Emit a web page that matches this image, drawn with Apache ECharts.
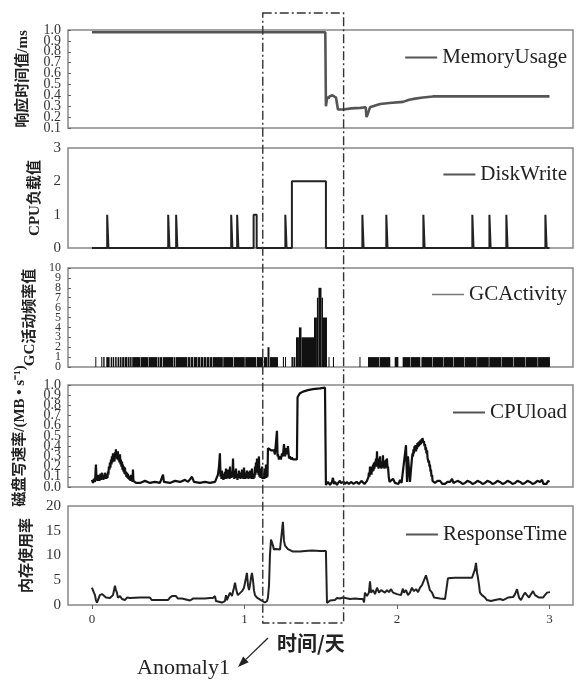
<!DOCTYPE html>
<html><head><meta charset="utf-8">
<script src="https://cdn.jsdelivr.net/npm/echarts@6/dist/echarts.min.js"></script>
<style>html,body{margin:0;padding:0;background:#fff}#c{width:582px;height:680px}</style>
</head><body><div id="c"></div>
<script>
// ---------- data (x in days) ----------
const xTickValues = [0, 1, 2, 3];
const seriesNames = ['MemoryUsage', 'DiskWrite', 'GCActivity', 'CPUload', 'ResponseTime'];
const yAxisNames = ['响应时间值/ms', 'CPU负载值', 'GC活动频率值', '磁盘写速率/(MB • s⁻¹)', '内存使用率'];

// y tick labels per panel, split in two interleaved groups (the reference labels overlap)
const yTicksA = [[0.1,0.3,0.5,0.7,0.9], [0,1,2,3], [0,2,4,6,8,10], [0.0,0.2,0.4,0.6,0.8,1.0], [0,5,10,15,20]];
const yTicksB = [[0.2,0.4,0.6,0.8,1.0], [], [1,3,5,7,9], [0.1,0.3,0.5,0.7,0.9], []];

const memoryUsage = [[0,0.98],[1.530,0.98],[1.534,0.30],[1.538,0.34],[1.545,0.39],[1.551,0.37],[1.557,0.39],[1.567,0.38],[1.577,0.40],[1.587,0.39],[1.600,0.38],[1.610,0.37],[1.613,0.27],[1.650,0.27],[1.700,0.28],[1.760,0.285],[1.795,0.29],[1.800,0.20],[1.806,0.22],[1.823,0.29],[1.843,0.30],[1.889,0.32],[1.950,0.33],[2.040,0.34],[2.080,0.36],[2.120,0.37],[2.170,0.38],[2.236,0.39],[2.500,0.39],[3.000,0.39]];

// DiskWrite pulses: [start, end, value]
const diskWritePulses = [[0.100,0.108,1],[0.500,0.508,1],[0.552,0.560,1],[0.913,0.921,1],[0.952,0.960,1],[1.060,1.080,1],[1.268,1.276,1],[1.311,1.534,2],[1.773,1.781,1],[1.930,1.938,1],[2.173,2.181,1],[2.494,2.502,1],[2.606,2.614,1],[2.717,2.725,1],[2.973,2.981,1]];
const diskWriteRange = [0, 3.0];

// GCActivity bars: [start, end, height]
const gcBars = [[0.022,0.028,1],[0.061,0.068,1],[0.074,0.083,1],[0.094,0.116,1],[0.123,0.132,1],[0.136,0.146,1],[0.152,0.162,1],[0.168,0.178,1],[0.182,0.194,1],[0.198,0.211,1],[0.214,0.231,1],[0.234,0.247,1],[0.250,0.260,1],[0.264,0.318,1],[0.321,0.370,1],[0.373,0.428,1],[0.431,0.440,1],[0.443,0.461,1],[0.465,0.533,1],[0.536,0.546,1],[0.549,0.626,1],[0.630,0.645,1],[0.648,0.664,1],[0.668,0.691,1],[0.694,0.710,1],[0.713,0.730,1],[0.733,0.750,1],[0.753,0.769,1],[0.772,0.789,1],[0.792,0.858,1],[0.861,0.927,1],[0.931,1.002,1],[1.005,1.078,1],[1.082,1.123,1],[1.128,1.149,1],[1.151,1.164,2],[1.167,1.220,1],[1.252,1.259,1],[1.266,1.272,1],[1.308,1.318,1],[1.321,1.334,1],[1.338,1.357,3],[1.357,1.374,4],[1.374,1.456,3],[1.456,1.475,5],[1.475,1.485,7],[1.485,1.505,8],[1.505,1.515,7],[1.515,1.541,5],[1.551,1.557,1],[1.580,1.587,1],[1.754,1.760,1],[1.810,1.884,1],[1.887,1.956,1],[1.985,2.009,1],[2.037,2.087,1],[2.090,2.153,1],[2.160,2.232,1],[2.235,2.302,1],[2.305,2.369,1],[2.372,2.442,1],[2.445,2.522,1],[2.525,2.602,1],[2.605,2.682,1],[2.685,2.762,1],[2.765,2.842,1],[2.845,2.922,1],[2.925,3.003,1]];

const cpuLoad = [[0,0.07],[0.007,0.04],[0.013,0.08],[0.020,0.05],[0.026,0.22],[0.030,0.08],[0.033,0.12],[0.036,0.06],[0.039,0.12],[0.043,0.07],[0.046,0.10],[0.049,0.06],[0.052,0.09],[0.056,0.13],[0.059,0.07],[0.062,0.12],[0.066,0.14],[0.069,0.08],[0.072,0.11],[0.075,0.07],[0.079,0.12],[0.082,0.08],[0.085,0.14],[0.089,0.09],[0.092,0.13],[0.095,0.08],[0.098,0.12],[0.102,0.09],[0.105,0.15],[0.108,0.12],[0.111,0.20],[0.115,0.17],[0.118,0.24],[0.121,0.19],[0.125,0.27],[0.128,0.22],[0.131,0.30],[0.134,0.24],[0.138,0.33],[0.141,0.26],[0.144,0.30],[0.148,0.25],[0.151,0.34],[0.154,0.28],[0.157,0.37],[0.161,0.29],[0.164,0.34],[0.167,0.27],[0.170,0.35],[0.174,0.26],[0.177,0.30],[0.180,0.24],[0.184,0.32],[0.187,0.22],[0.190,0.27],[0.193,0.20],[0.197,0.25],[0.200,0.17],[0.203,0.22],[0.207,0.15],[0.210,0.20],[0.213,0.13],[0.216,0.19],[0.220,0.12],[0.223,0.15],[0.226,0.10],[0.230,0.14],[0.233,0.09],[0.236,0.13],[0.239,0.08],[0.243,0.11],[0.246,0.07],[0.249,0.10],[0.252,0.06],[0.256,0.12],[0.259,0.06],[0.262,0.08],[0.266,0.05],[0.269,0.17],[0.272,0.06],[0.276,0.05],[0.282,0.07],[0.289,0.04],[0.295,0.05],[0.315,0.04],[0.348,0.06],[0.380,0.04],[0.413,0.05],[0.446,0.04],[0.466,0.12],[0.472,0.05],[0.511,0.04],[0.544,0.06],[0.577,0.05],[0.610,0.07],[0.630,0.05],[0.656,0.10],[0.669,0.05],[0.708,0.04],[0.741,0.05],[0.774,0.04],[0.807,0.05],[0.820,0.06],[0.826,0.12],[0.833,0.20],[0.839,0.33],[0.843,0.10],[0.846,0.14],[0.849,0.08],[0.852,0.16],[0.856,0.09],[0.859,0.13],[0.862,0.07],[0.866,0.12],[0.869,0.08],[0.872,0.15],[0.876,0.10],[0.879,0.18],[0.882,0.08],[0.885,0.14],[0.889,0.10],[0.892,0.17],[0.895,0.09],[0.898,0.13],[0.902,0.08],[0.905,0.20],[0.908,0.10],[0.911,0.15],[0.915,0.09],[0.918,0.14],[0.921,0.11],[0.925,0.28],[0.928,0.10],[0.931,0.12],[0.934,0.08],[0.938,0.16],[0.941,0.10],[0.944,0.18],[0.948,0.09],[0.951,0.13],[0.954,0.07],[0.957,0.12],[0.961,0.09],[0.964,0.16],[0.967,0.10],[0.970,0.14],[0.974,0.08],[0.977,0.12],[0.980,0.09],[0.984,0.17],[0.987,0.10],[0.990,0.14],[0.993,0.08],[0.997,0.19],[1.000,0.11],[1.003,0.14],[1.007,0.08],[1.010,0.12],[1.013,0.09],[1.016,0.16],[1.020,0.10],[1.023,0.15],[1.026,0.08],[1.030,0.13],[1.033,0.10],[1.036,0.16],[1.039,0.09],[1.043,0.12],[1.046,0.08],[1.049,0.18],[1.052,0.10],[1.056,0.13],[1.059,0.08],[1.062,0.12],[1.066,0.09],[1.069,0.20],[1.072,0.12],[1.075,0.24],[1.079,0.15],[1.082,0.28],[1.085,0.14],[1.089,0.22],[1.092,0.12],[1.095,0.30],[1.098,0.10],[1.102,0.15],[1.105,0.09],[1.108,0.18],[1.111,0.10],[1.115,0.20],[1.118,0.08],[1.121,0.14],[1.125,0.09],[1.128,0.12],[1.131,0.08],[1.134,0.18],[1.138,0.10],[1.141,0.22],[1.144,0.09],[1.148,0.14],[1.151,0.10],[1.154,0.38],[1.167,0.39],[1.174,0.36],[1.180,0.37],[1.187,0.35],[1.193,0.36],[1.200,0.32],[1.207,0.33],[1.213,0.55],[1.217,0.30],[1.220,0.32],[1.226,0.27],[1.233,0.30],[1.239,0.27],[1.246,0.33],[1.252,0.30],[1.259,0.42],[1.266,0.30],[1.272,0.38],[1.279,0.32],[1.285,0.40],[1.292,0.28],[1.298,0.30],[1.305,0.27],[1.311,0.29],[1.318,0.27],[1.331,0.27],[1.344,0.27],[1.348,0.88],[1.364,0.92],[1.384,0.935],[1.416,0.95],[1.449,0.96],[1.495,0.967],[1.528,0.974],[1.534,0.02],[1.541,0.02],[1.547,0.05],[1.554,0.06],[1.561,0.02],[1.567,0.03],[1.574,0.05],[1.580,0.09],[1.587,0.03],[1.593,0.05],[1.600,0.05],[1.607,0.02],[1.613,0.04],[1.620,0.03],[1.626,0.06],[1.633,0.04],[1.639,0.03],[1.646,0.05],[1.652,0.05],[1.659,0.03],[1.666,0.04],[1.672,0.05],[1.679,0.06],[1.685,0.03],[1.692,0.03],[1.698,0.05],[1.705,0.05],[1.715,0.03],[1.725,0.04],[1.735,0.05],[1.744,0.06],[1.750,0.03],[1.757,0.04],[1.767,0.06],[1.777,0.05],[1.787,0.03],[1.797,0.04],[1.803,0.06],[1.810,0.06],[1.813,0.10],[1.816,0.14],[1.820,0.10],[1.823,0.20],[1.826,0.13],[1.830,0.18],[1.833,0.12],[1.836,0.20],[1.839,0.15],[1.843,0.22],[1.846,0.16],[1.849,0.24],[1.852,0.18],[1.856,0.25],[1.859,0.20],[1.862,0.28],[1.866,0.22],[1.869,0.35],[1.872,0.20],[1.875,0.26],[1.879,0.18],[1.882,0.28],[1.885,0.21],[1.889,0.30],[1.892,0.19],[1.895,0.25],[1.898,0.18],[1.902,0.24],[1.905,0.20],[1.908,0.31],[1.911,0.19],[1.915,0.26],[1.918,0.18],[1.921,0.24],[1.925,0.19],[1.928,0.27],[1.931,0.20],[1.934,0.28],[1.938,0.18],[1.941,0.20],[1.946,0.10],[1.951,0.05],[1.961,0.04],[1.974,0.08],[1.987,0.04],[2.000,0.05],[2.010,0.03],[2.020,0.07],[2.030,0.04],[2.039,0.04],[2.059,0.41],[2.066,0.05],[2.072,0.30],[2.085,0.05],[2.098,0.28],[2.102,0.33],[2.105,0.30],[2.108,0.37],[2.111,0.33],[2.115,0.40],[2.118,0.36],[2.121,0.41],[2.125,0.35],[2.128,0.40],[2.131,0.37],[2.134,0.43],[2.138,0.39],[2.141,0.44],[2.144,0.40],[2.148,0.45],[2.151,0.41],[2.154,0.46],[2.157,0.42],[2.161,0.47],[2.164,0.44],[2.167,0.48],[2.170,0.49],[2.174,0.43],[2.177,0.45],[2.180,0.40],[2.184,0.42],[2.187,0.36],[2.190,0.39],[2.193,0.33],[2.197,0.36],[2.200,0.29],[2.203,0.30],[2.207,0.24],[2.210,0.26],[2.213,0.20],[2.216,0.22],[2.220,0.15],[2.223,0.17],[2.226,0.10],[2.230,0.12],[2.233,0.06],[2.236,0.05],[2.249,0.04],[2.266,0.06],[2.282,0.06],[2.298,0.03],[2.315,0.03],[2.331,0.05],[2.348,0.05],[2.361,0.08],[2.370,0.04],[2.380,0.04],[2.397,0.06],[2.413,0.05],[2.430,0.03],[2.446,0.04],[2.462,0.06],[2.479,0.05],[2.495,0.03],[2.511,0.04],[2.528,0.06],[2.544,0.05],[2.561,0.03],[2.577,0.04],[2.593,0.06],[2.610,0.05],[2.626,0.03],[2.643,0.04],[2.659,0.06],[2.675,0.05],[2.692,0.03],[2.708,0.04],[2.725,0.06],[2.741,0.05],[2.757,0.03],[2.774,0.04],[2.790,0.06],[2.807,0.05],[2.823,0.03],[2.839,0.04],[2.856,0.06],[2.872,0.05],[2.889,0.03],[2.905,0.04],[2.921,0.06],[2.938,0.05],[2.951,0.07],[2.960,0.03],[2.970,0.04],[2.980,0.03],[2.990,0.06],[3.0,0.05]];

const responseTime = [[0,3.5],[0.013,2.5],[0.020,2.0],[0.026,1.0],[0.033,0.5],[0.046,0.8],[0.052,2.0],[0.066,2.2],[0.079,1.8],[0.092,1.5],[0.105,1.6],[0.118,1.4],[0.138,2.0],[0.151,3.9],[0.157,3.0],[0.164,2.5],[0.170,1.5],[0.184,1.8],[0.197,1.2],[0.203,0.8],[0.216,1.0],[0.230,1.5],[0.249,1.4],[0.315,1.5],[0.380,1.5],[0.393,1.0],[0.446,1.0],[0.498,1.0],[0.511,1.5],[0.525,1.8],[0.538,1.6],[0.551,1.8],[0.564,1.3],[0.590,1.3],[0.597,0.9],[0.643,0.9],[0.656,1.0],[0.662,1.3],[0.708,1.3],[0.741,1.3],[0.774,1.4],[0.793,1.4],[0.807,1.8],[0.813,0.8],[0.826,0.5],[0.852,0.5],[0.872,0.8],[0.879,2.0],[0.885,1.0],[0.898,1.2],[0.905,2.5],[0.918,1.8],[0.931,3.5],[0.938,4.5],[0.944,3.5],[0.951,2.5],[0.957,2.0],[0.970,2.2],[0.984,2.8],[0.997,3.5],[1.010,5.5],[1.016,6.5],[1.023,4.0],[1.030,3.0],[1.036,4.0],[1.043,5.5],[1.049,6.5],[1.056,5.0],[1.062,3.0],[1.069,2.0],[1.082,1.5],[1.095,1.2],[1.108,1.0],[1.121,0.8],[1.134,0.5],[1.148,0.8],[1.154,1.5],[1.161,4.0],[1.167,10],[1.174,13.2],[1.180,13.6],[1.187,12],[1.193,11.2],[1.207,11.3],[1.220,11.0],[1.233,11.2],[1.246,11.5],[1.252,16.8],[1.259,13],[1.266,12],[1.272,11.8],[1.285,11.3],[1.298,11.2],[1.318,10.8],[1.364,10.8],[1.397,10.9],[1.443,11.0],[1.449,11.3],[1.456,11.0],[1.495,10.9],[1.534,10.9],[1.541,0.4],[1.554,0.5],[1.561,0.9],[1.574,1.2],[1.593,1.0],[1.607,1.4],[1.626,1.3],[1.646,1.5],[1.659,1.2],[1.692,1.2],[1.725,1.3],[1.757,1.2],[1.777,1.2],[1.784,0.5],[1.790,2.5],[1.803,1.8],[1.816,2.5],[1.823,4.8],[1.830,2.5],[1.843,3.0],[1.856,2.2],[1.869,3.5],[1.882,2.5],[1.895,3.0],[1.908,2.8],[1.921,2.5],[1.934,3.0],[1.948,2.6],[1.961,3.2],[1.974,2.5],[1.987,2.8],[2.000,2.2],[2.013,2.6],[2.026,2.0],[2.039,3.3],[2.046,2.5],[2.059,3.0],[2.072,2.0],[2.085,2.5],[2.098,3.5],[2.111,2.8],[2.125,3.2],[2.138,2.6],[2.151,3.5],[2.164,4.0],[2.177,5.0],[2.190,6.0],[2.197,6.0],[2.203,4.5],[2.216,3.0],[2.230,2.5],[2.243,1.5],[2.256,1.2],[2.282,1.3],[2.315,1.2],[2.328,1.2],[2.334,5.4],[2.380,5.5],[2.446,5.5],[2.492,5.5],[2.505,5.8],[2.511,7.2],[2.518,8.5],[2.525,6.5],[2.531,5.5],[2.538,4.0],[2.544,2.5],[2.557,2.0],[2.570,1.8],[2.577,1.5],[2.590,1.0],[2.603,1.2],[2.616,0.8],[2.643,1.0],[2.675,1.2],[2.695,1.0],[2.708,1.3],[2.728,1.5],[2.741,1.2],[2.761,1.6],[2.774,2.2],[2.787,3.2],[2.800,1.5],[2.813,1.0],[2.826,1.8],[2.839,2.5],[2.852,2.0],[2.866,1.5],[2.879,2.2],[2.892,2.8],[2.905,2.0],[2.918,1.8],[2.931,1.5],[2.944,1.8],[2.957,1.5],[2.970,2.0],[2.984,2.5],[2.997,2.8],[3.003,2.6]];

const yRanges = [[0.1, 1.0, 0.1], [0, 3, 1], [0, 10, 1], [0, 1.0, 0.1], [0, 20, 5]];
const anomalyWindow = [1.12, 1.65];
const xRange = [-0.157, 3.154];

// ---------- helpers ----------
function pulseLine(list, x0, x1) {
  const pts = [[x0, 0]];
  list.forEach(([s, e, h]) => { pts.push([s, 0], [s, h], [e, h], [e, 0]); });
  pts.push([x1, 0]);
  return pts;
}

const SERIF = "'Liberation Serif','Times New Roman',serif";
const NAMEFONT = "'Liberation Serif','Noto Sans CJK SC',sans-serif";
const layout = [
  {top: 30, height: 98, gap: 37, lab: 14, tick: true, legTop: 42},
  {top: 148, height: 100, gap: 23, lab: 15, tick: false, legTop: 159},
  {top: 268, height: 99, gap: 28, lab: 12, tick: true, legTop: 279},
  {top: 385, height: 102, gap: 40, lab: 14, tick: true, legTop: 397},
  {top: 506, height: 99, gap: 27, lab: 15, tick: false, legTop: 519}
];

const chart = echarts.init(document.getElementById('c'), null, {renderer: 'canvas'});

const grids = layout.map(l => ({left: 68, right: 9, top: l.top, height: l.height, show: true,
  borderColor: '#888', borderWidth: 1.5, backgroundColor: 'transparent', containLabel: false}));

const xAxes = layout.map((l, i) => {
  const last = i === layout.length - 1;
  return {
    type: 'value', gridIndex: i, min: xRange[0], max: xRange[1],
    axisLine: {show: false, onZero: false}, splitLine: {show: false},
    axisTick: {show: last, customValues: xTickValues, length: 4, lineStyle: {color: '#666'}},
    axisLabel: {show: last, customValues: xTickValues, fontFamily: SERIF, fontSize: 13, color: '#333', margin: 8,
      formatter: v => String(v)}
  };
});

function labelStyle(l, dec, values) {
  return {fontFamily: SERIF, fontSize: l.lab, color: '#333', margin: 7,
    customValues: values, showMinLabel: true, showMaxLabel: true,
    formatter: v => Number(v).toFixed(dec)};
}

const yAxes = layout.map((l, i) => {
  const [mn, mx, iv] = yRanges[i];
  const dec = iv < 1 ? 1 : 0;
  return {
    type: 'value', gridIndex: i, min: mn, max: mx, interval: iv, position: 'left',
    name: yAxisNames[i], nameLocation: 'middle', nameRotate: 90, nameGap: l.gap,
    nameTextStyle: {fontFamily: NAMEFONT, fontSize: 15, fontWeight: 'bold', color: '#222'},
    axisLine: {show: false, onZero: false}, splitLine: {show: false},
    axisTick: {show: l.tick, inside: true, length: 3, lineStyle: {color: '#666'}},
    axisLabel: labelStyle(l, dec, yTicksA[i])
  };
});
// companion axes carrying the interleaved labels
layout.forEach((l, i) => {
  if (!yTicksB[i].length) return;
  const [mn, mx, iv] = yRanges[i];
  const dec = iv < 1 ? 1 : 0;
  yAxes.push({
    type: 'value', gridIndex: i, min: mn, max: mx, position: 'left', offset: 0,
    axisLine: {show: false, onZero: false}, splitLine: {show: false}, axisTick: {show: false},
    axisLabel: labelStyle(l, dec, yTicksB[i])
  });
});

const legends = layout.map((l, i) => ({
  data: [{name: seriesNames[i], itemStyle: {color: i === 2 ? '#777' : '#555'}}],
  right: 10, top: l.legTop, icon: 'rect', itemWidth: 32, itemHeight: i === 2 ? 1.5 : 2.2,
  selectedMode: false,
  textStyle: {fontFamily: SERIF, fontSize: 21, color: '#222'}
}));

const series = [
  {name: seriesNames[0], type: 'line', xAxisIndex: 0, yAxisIndex: 0, data: memoryUsage,
   showSymbol: false, symbol: 'none', lineStyle: {width: 2.6, color: '#555'}, itemStyle: {color: '#555'}},
  {name: seriesNames[1], type: 'line', xAxisIndex: 1, yAxisIndex: 1, data: pulseLine(diskWritePulses, diskWriteRange[0], diskWriteRange[1]),
   showSymbol: false, symbol: 'none', lineStyle: {width: 2, color: '#222'}, itemStyle: {color: '#222'}},
  {name: seriesNames[2], type: 'custom', xAxisIndex: 2, yAxisIndex: 2, data: gcBars,
   encode: {x: [0, 1], y: 2}, itemStyle: {color: '#111'},
   renderItem: function (params, api) {
     const p0 = api.coord([api.value(0), api.value(2)]);
     const p1 = api.coord([api.value(1), 0]);
     return {type: 'rect', shape: {x: p0[0], y: p0[1], width: Math.max(p1[0] - p0[0], 1), height: p1[1] - p0[1]},
       style: {fill: '#111'}};
   }},
  {name: seriesNames[3], type: 'line', xAxisIndex: 3, yAxisIndex: 3, data: cpuLoad,
   showSymbol: false, symbol: 'none', lineStyle: {width: 2.2, color: '#111'}, itemStyle: {color: '#111'}},
  {name: seriesNames[4], type: 'line', xAxisIndex: 4, yAxisIndex: 4, data: responseTime,
   showSymbol: false, symbol: 'none', lineStyle: {width: 2, color: '#222'}, itemStyle: {color: '#222'}}
];

chart.setOption({
  animation: false,
  backgroundColor: '#fff',
  grid: grids, xAxis: xAxes, yAxis: yAxes, legend: legends, series: series
});

// ---------- annotations ----------
const xl = chart.convertToPixel({xAxisIndex: 0}, anomalyWindow[0]);
const xr = chart.convertToPixel({xAxisIndex: 0}, anomalyWindow[1]);
const rectTop = layout[0].top - 17;
const rectBottom = layout[4].top + layout[4].height + 18;
const tip = [238, 667], tail = [268, 638];
const dx = tip[0] - tail[0], dy = tip[1] - tail[1], L = Math.hypot(dx, dy);
const ux = dx / L, uy = dy / L, px = -uy, py = ux;
const bx = tip[0] - 11 * ux, by = tip[1] - 11 * uy;

chart.setOption({
  graphic: [
    {type: 'rect', silent: true, z: 100,
     shape: {x: xl, y: rectTop, width: xr - xl, height: rectBottom - rectTop},
     style: {fill: null, stroke: '#333', lineWidth: 1.4, lineDash: [9, 3, 2, 3]}},
    {type: 'text', silent: true, z: 100, x: 277, y: 643,
     style: {text: '时间/天', font: "bold 20px 'Noto Sans CJK SC', sans-serif", fill: '#222', textVerticalAlign: 'middle'}},
    {type: 'text', silent: true, z: 100, x: 137, y: 668,
     style: {text: 'Anomaly1', font: "22px 'Liberation Serif', serif", fill: '#222', textVerticalAlign: 'middle'}},
    {type: 'line', silent: true, z: 100, shape: {x1: tail[0], y1: tail[1], x2: bx, y2: by},
     style: {stroke: '#222', lineWidth: 1.3}},
    {type: 'polygon', silent: true, z: 100,
     shape: {points: [tip, [bx + 4 * px, by + 4 * py], [bx - 4 * px, by - 4 * py]]},
     style: {fill: '#222'}}
  ]
});
</script></body></html>
